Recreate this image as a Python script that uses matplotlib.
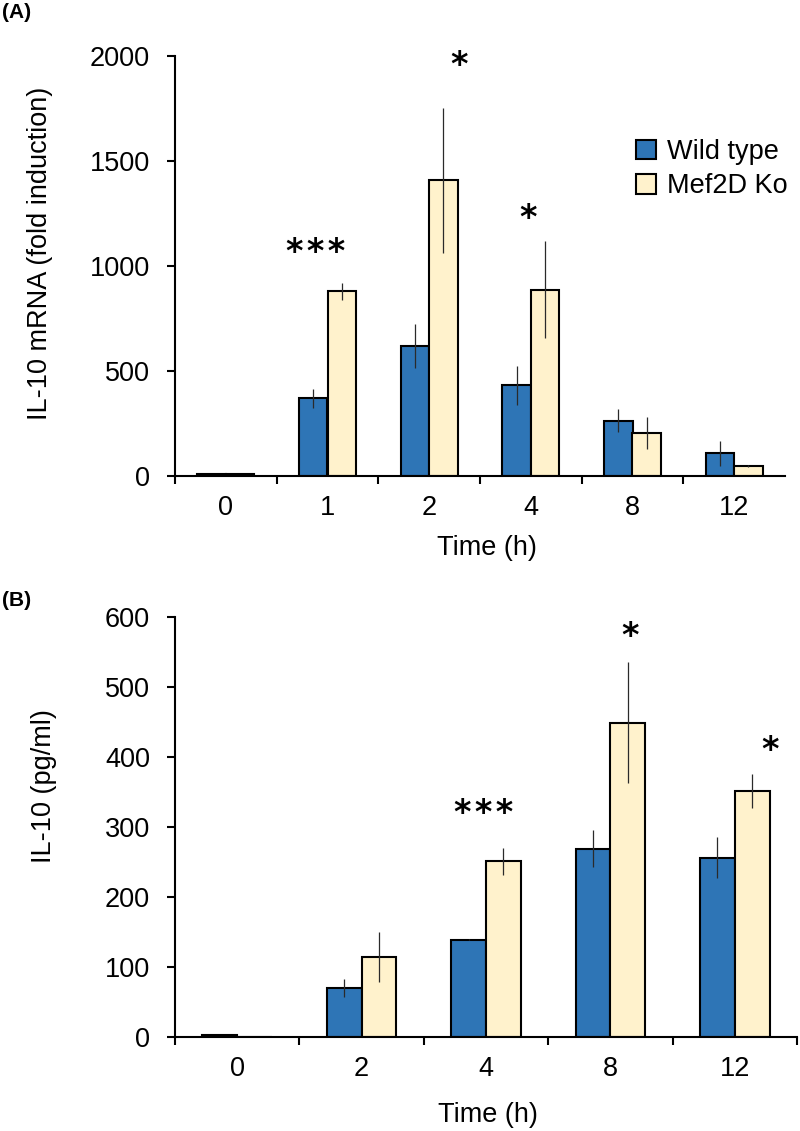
import numpy as np
import matplotlib
matplotlib.use("Agg")
from matplotlib import pyplot as plt

plt.rcParams['font.family'] = ['Liberation Sans', 'DejaVu Sans']

# panel A: IL-10 mRNA
a_times = ['0', '1', '2', '4', '8', '12']
a_wt = [10, 369, 616, 430, 263, 106]
a_wt_err = [0, 45, 105, 95, 55, 60]
a_ko = [8, 878, 1407, 886, 202, 48]
a_ko_err = [0, 40, 346, 230, 76, 5]
a_star_x = [0.88, 2.29, 2.97]
a_star_y = [1099, 1990, 1265]
a_star_txt = ['*\u200a*\u200a*', '*', '*']

# panel B: IL-10 protein
b_times = ['0', '2', '4', '8', '12']
b_wt = [3, 70, 139, 269, 256]
b_wt_err = [0, 13, 1, 26, 29]
b_ko = [0, 114, 251, 449, 351]
b_ko_err = [0, 36, 19, 86, 24]
b_star_x = [1.98, 3.16, 4.28]
b_star_y = [330, 583, 421]
b_star_txt = ['*\u200a*\u200a*', '*', '*']

blue = '#2E75B6'
cream = '#FFF2CC'
fs = 19.5
star_fs = 24


def panel(ax, times, wt, wt_err, ko, ko_err, ymax, ystep, right_tick,
          sx, sy, stxt):
    x = np.arange(len(times))
    w = 0.28
    ax.bar(x - w / 2, wt, w, color=blue, edgecolor='black', linewidth=1.5,
           zorder=2, label='Wild type')
    ax.bar(x + w / 2, ko, w, color=cream, edgecolor='black', linewidth=1.5,
           zorder=2, label='Mef2D Ko')
    ax.errorbar(x - w / 2, wt, yerr=wt_err, fmt='none', ecolor='#2a2a2a',
                elinewidth=0.9, capsize=0, zorder=3)
    ax.errorbar(x + w / 2, ko, yerr=ko_err, fmt='none', ecolor='#2a2a2a',
                elinewidth=0.9, capsize=0, zorder=3)
    # significance stars
    for xx, yy, t in zip(sx, sy, stxt):
        ax.annotate(t, xy=(xx, yy), xytext=(0, -0.52 * star_fs),
                    textcoords='offset points', ha='center', va='baseline',
                    fontsize=star_fs, family='DejaVu Sans', fontweight='bold')

    ax.set_xlim(-0.5, len(times) - 0.5)
    ax.set_ylim(0, ymax)
    ax.set_yticks(np.arange(0, ymax + 1, ystep))
    ax.set_xticks(x)
    ax.set_xticklabels(times)
    n = len(times) + (1 if right_tick else 0)
    ax.set_xticks(np.arange(n) - 0.5, minor=True)
    ax.tick_params(axis='x', which='major', length=0, pad=14, labelsize=fs)
    ax.tick_params(axis='x', which='minor', length=6, width=1.5)
    ax.tick_params(axis='y', length=6, width=1.5, pad=12, labelsize=fs)
    for s in ['top', 'right']:
        ax.spines[s].set_visible(False)
    for s in ['left', 'bottom']:
        ax.spines[s].set_linewidth(1.5)
    ax.set_xlabel('Time (h)', fontsize=fs)


fig = plt.figure(figsize=(8, 11.31), dpi=100)
axA = fig.add_axes([0.21875, 0.5794, 0.7625, 0.3711])
axB = fig.add_axes([0.21875, 0.0831, 0.7775, 0.3714])

panel(axA, a_times, a_wt, a_wt_err, a_ko, a_ko_err, 2000, 500, False,
      a_star_x, a_star_y, a_star_txt)
panel(axB, b_times, b_wt, b_wt_err, b_ko, b_ko_err, 600, 100, True,
      b_star_x, b_star_y, b_star_txt)

axA.set_ylabel('IL-10 mRNA (fold induction)', fontsize=fs)
axB.set_ylabel('IL-10 (pg/ml)', fontsize=fs)
axA.yaxis.set_label_coords(-0.221, 0.53)
axB.yaxis.set_label_coords(-0.211, 0.598)
axA.xaxis.set_label_coords(0.512, -0.172)
axB.xaxis.set_label_coords(0.503, -0.186)
for ax in (axA, axB):
    ax.yaxis.label.set_verticalalignment('center')
    ax.xaxis.label.set_verticalalignment('center')

axA.legend(loc='upper left', bbox_to_anchor=(0.7946, 0.877),
           bbox_transform=fig.transFigure, frameon=False, fontsize=fs,
           handlelength=0.74, handleheight=0.74, handletextpad=0.4,
           labelspacing=0.3, borderpad=0, borderaxespad=0)

fig.text(0.003, 1 - 12 / 1131, '(A)', fontsize=15, fontweight='bold',
         va='center')
fig.text(0.003, 1 - 601 / 1131, '(B)', fontsize=15, fontweight='bold',
         va='center')

fig.savefig('out.png', dpi=100)
